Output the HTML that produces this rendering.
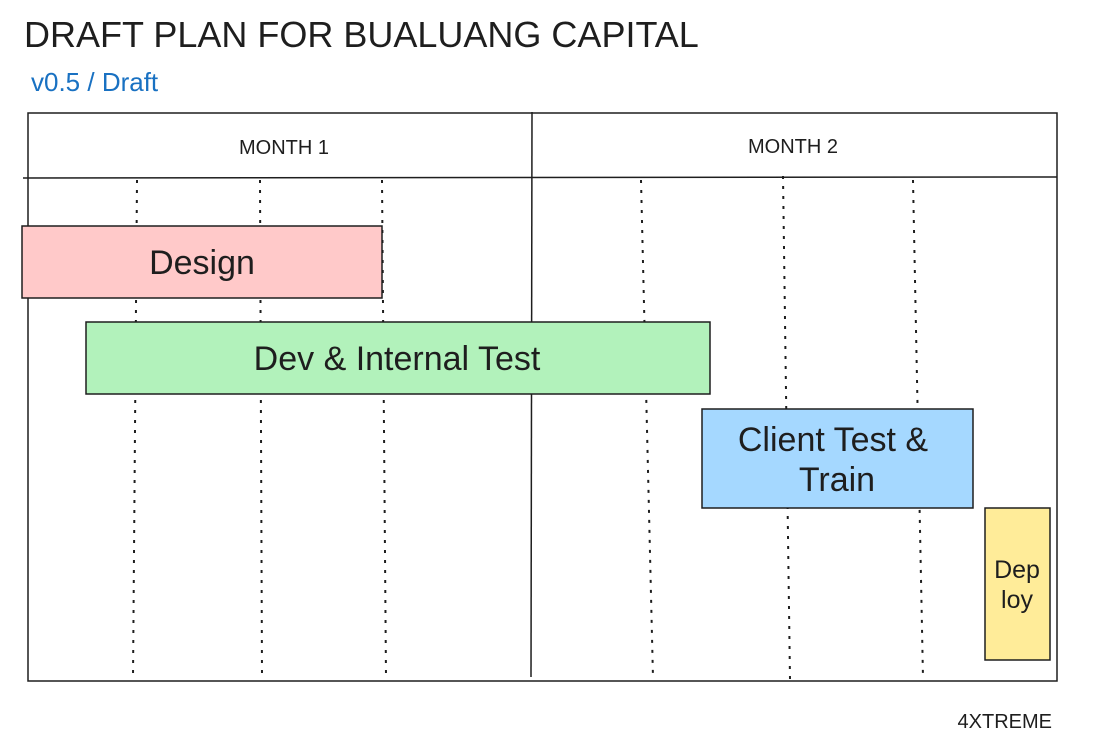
<!DOCTYPE html>
<html><head><meta charset="utf-8"><style>
html,body{margin:0;padding:0;background:#fff;}
svg{display:block;font-family:"Liberation Sans",sans-serif;}
</style></head><body>
<svg width="1094" height="750" viewBox="0 0 1094 750" xmlns="http://www.w3.org/2000/svg">
<text x="24" y="47" font-size="36" fill="#1e1e1e">DRAFT PLAN FOR BUALUANG CAPITAL</text>
<text x="31" y="91" font-size="26" fill="#1971c2">v0.5 / Draft</text>
<g stroke="#1e1e1e" stroke-width="1.5" fill="none">
<path d="M28 113 L1057 113 L1057 681 L28 681 Z"/>
<path d="M23 178 L1057 177"/>
<path d="M532 112 L531 677"/>
</g>
<g stroke="#1e1e1e" stroke-width="2" stroke-dasharray="3 7" fill="none">
<path d="M137 180 L133 678"/>
<path d="M260 180 L262 678"/>
<path d="M382 180 L386 678"/>
<path d="M641 180 L653 678"/>
<path d="M783 176 L790 680"/>
<path d="M913 180 L923 678"/>
</g>
<text x="284" y="154" font-size="20" fill="#1e1e1e" text-anchor="middle">MONTH 1</text>
<text x="793" y="153" font-size="20" fill="#1e1e1e" text-anchor="middle">MONTH 2</text>
<g stroke="#1e1e1e" stroke-width="1.5">
<rect x="22" y="226" width="360" height="72" fill="#ffc9c9"/>
<rect x="86" y="322" width="624" height="72" fill="#b2f2bb"/>
<rect x="702" y="409" width="271" height="99" fill="#a5d8ff"/>
<rect x="985" y="508" width="65" height="152" fill="#ffec99"/>
</g>
<g fill="#1e1e1e" text-anchor="middle">
<text x="202" y="274" font-size="34">Design</text>
<text x="397" y="370" font-size="34">Dev &amp; Internal Test</text>
<text x="833" y="451" font-size="34">Client Test &amp;</text>
<text x="837" y="491" font-size="34">Train</text>
<text x="1017" y="578" font-size="25">Dep</text>
<text x="1017" y="608" font-size="25">loy</text>
</g>
<text x="1052" y="728" font-size="20" fill="#1e1e1e" text-anchor="end">4XTREME</text>
</svg>
</body></html>
